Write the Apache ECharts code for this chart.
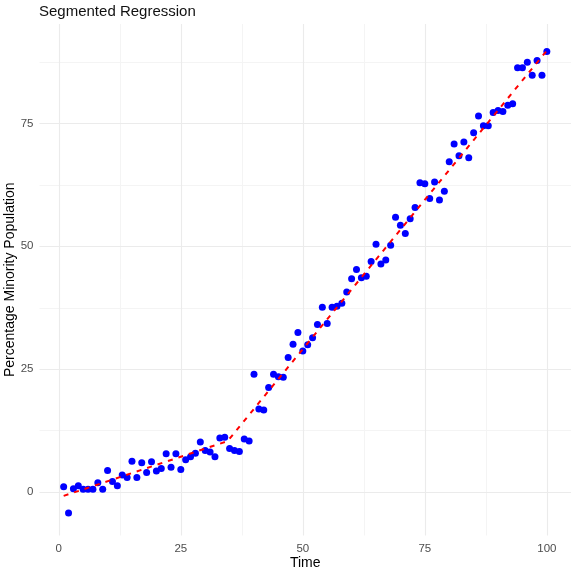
<!DOCTYPE html>
<html>
<head>
<meta charset="utf-8">
<script src="https://cdn.jsdelivr.net/npm/echarts@6/dist/echarts.min.js"></script>
<style>
  html, body { margin: 0; padding: 0; background: #ffffff; }
  #chart { width: 572px; height: 571px; }
</style>
</head>
<body>
<div id="chart"></div>
<script>
// Observed share of minority population over time
const time = [
  1, 2, 3, 4, 5, 6, 7, 8, 9, 10,
  11, 12, 13, 14, 15, 16, 17, 18, 19, 20,
  21, 22, 23, 24, 25, 26, 27, 28, 29, 30,
  31, 32, 33, 34, 35, 36, 37, 38, 39, 40,
  41, 42, 43, 44, 45, 46, 47, 48, 49, 50,
  51, 52, 53, 54, 55, 56, 57, 58, 59, 60,
  61, 62, 63, 64, 65, 66, 67, 68, 69, 70,
  71, 72, 73, 74, 75, 76, 77, 78, 79, 80,
  81, 82, 83, 84, 85, 86, 87, 88, 89, 90,
  91, 92, 93, 94, 95, 96, 97, 98, 99, 100
];
const minorityPct = [
  1.1, -4.2, 0.7, 1.3, 0.6, 0.6, 0.6, 1.9, 0.6, 4.4,
  2.2, 1.3, 3.5, 3.0, 6.3, 3.0, 6.0, 4.0, 6.2, 4.3,
  4.8, 7.8, 5.1, 7.8, 4.6, 6.6, 7.2, 7.9, 10.2, 8.5,
  8.2, 7.2, 11.0, 11.2, 8.9, 8.5, 8.3, 10.8, 10.4, 24.0,
  16.9, 16.7, 21.3, 24.0, 23.5, 23.4, 27.4, 30.1, 32.5, 28.7,
  30.0, 31.4, 34.1, 37.6, 34.3, 37.6, 37.8, 38.4, 40.7, 43.4,
  45.3, 43.6, 43.9, 46.9, 50.4, 46.4, 47.2, 50.2, 55.9, 54.3,
  52.6, 55.6, 57.9, 62.9, 62.7, 59.7, 63.1, 59.4, 61.2, 67.2,
  70.8, 68.4, 71.2, 68.0, 73.1, 76.5, 74.5, 74.5, 77.2, 77.6,
  77.4, 78.7, 79.0, 86.3, 86.3, 87.4, 84.8, 87.8, 84.8, 89.6
];

// Fitted segmented regression: start, breakpoint, end
const fitTime = [1, 34.6, 100];
const fitPct = [-0.75, 10.4, 89.8];

// Axis breaks
const xMajorTicks = [0, 25, 50, 75, 100];
const xMinorTicks = [12.5, 37.5, 62.5, 87.5];
const yMajorTicks = [0, 25, 50, 75];
const yMinorTicks = [12.5, 37.5, 62.5, 87.5];

const FONT = '"Liberation Sans", Arial, sans-serif';
const MAJOR_GRID = { color: '#ebebeb', width: 1.1, type: 'solid' };
const MINOR_GRID = { color: '#f4f4f4', width: 1, type: 'solid' };

const gridLines = []
  .concat(xMinorTicks.map(v => ({ xAxis: v, lineStyle: MINOR_GRID })))
  .concat(yMinorTicks.map(v => ({ yAxis: v, lineStyle: MINOR_GRID })))
  .concat(xMajorTicks.map(v => ({ xAxis: v, lineStyle: MAJOR_GRID })))
  .concat(yMajorTicks.map(v => ({ yAxis: v, lineStyle: MAJOR_GRID })));

const points = time.map((t, i) => [t, minorityPct[i]]);
const fitLine = fitTime.map((t, i) => [t, fitPct[i]]);

const chart = echarts.init(document.getElementById('chart'), null, { renderer: 'canvas' });

chart.setOption({
  animation: false,
  backgroundColor: '#ffffff',
  title: {
    text: 'Segmented Regression',
    left: 39,
    top: 4,
    padding: 0,
    textStyle: { fontFamily: FONT, fontSize: 15, fontWeight: 'normal', color: '#111111' }
  },
  grid: {
    left: 39.5, right: 1, top: 24, bottom: 35.5,
    containLabel: false,
    outerBoundsMode: 'none'
  },
  xAxis: {
    type: 'value',
    min: -3.95,
    max: 104.95,
    name: 'Time',
    nameLocation: 'middle',
    nameGap: 21,
    nameMoveOverlap: false,
    nameTextStyle: { fontFamily: FONT, fontSize: 14, color: '#000000' },
    axisLine: { show: false },
    axisTick: { show: false },
    splitLine: { show: false },
    axisLabel: {
      customValues: xMajorTicks,
      margin: 7,
      fontFamily: FONT,
      fontSize: 11.5,
      color: '#4d4d4d'
    }
  },
  yAxis: {
    type: 'value',
    min: -8.8,
    max: 95.2,
    name: 'Percentage Minority Population',
    nameLocation: 'middle',
    nameRotate: 90,
    nameGap: 22,
    nameMoveOverlap: false,
    nameTextStyle: { fontFamily: FONT, fontSize: 14, color: '#000000' },
    axisLine: { show: false },
    axisTick: { show: false },
    splitLine: { show: false },
    axisLabel: {
      customValues: yMajorTicks,
      margin: 6,
      fontFamily: FONT,
      fontSize: 11.5,
      color: '#4d4d4d'
    }
  },
  series: [
    {
      name: 'grid',
      type: 'line',
      data: [],
      silent: true,
      z: 0,
      zlevel: 0,
      markLine: {
        silent: true,
        z: 0,
        symbol: ['none', 'none'],
        label: { show: false },
        emphasis: { disabled: true },
        animation: false,
        data: gridLines
      }
    },
    {
      name: 'observed',
      type: 'scatter',
      data: points,
      symbol: 'circle',
      symbolSize: 7,
      itemStyle: { color: '#0000ff', opacity: 1 },
      z: 3,
      zlevel: 1
    },
    {
      name: 'fit',
      type: 'line',
      data: fitLine,
      showSymbol: false,
      symbol: 'none',
      lineStyle: { color: '#ff0000', width: 2, type: [5, 6] },
      z: 4,
      zlevel: 1
    }
  ]
});
</script>
</body>
</html>
